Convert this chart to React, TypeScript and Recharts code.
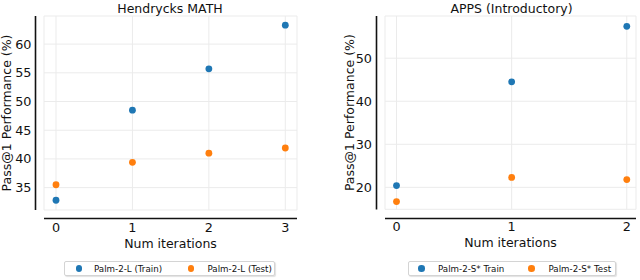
import React from 'react';
import { ScatterChart, Scatter, XAxis, YAxis, CartesianGrid } from 'recharts';

const mathIters = [0, 1, 2, 3];
const mathTrain = [32.8, 48.5, 55.7, 63.3];
const mathTest = [35.5, 39.4, 41.0, 41.9];
const mathYTicks = [35, 40, 45, 50, 55, 60];

const appsIters = [0, 1, 2];
const appsTrain = [20.4, 44.5, 57.4];
const appsTest = [16.7, 22.3, 21.8];
const appsYTicks = [20, 30, 40, 50];

const BLUE = '#1f77b4';
const ORANGE = '#ff7f0e';
const FONT = '"DejaVu Sans", sans-serif';
const TXT = '#111';

const dot = (color: string) => (p: any) => <circle cx={p.cx} cy={p.cy} r={3.4} fill={color} />;

function YLabel(props: any) {
  const vb = props.viewBox || {};
  return (
    <text
      transform={`translate(${props.lx}, ${vb.y + vb.height / 2}) rotate(-90)`}
      textAnchor="middle"
      dominantBaseline="central"
      fontSize={12.5}
      fontFamily={FONT}
      fill={TXT}
    >
      Pass@1 Performance (%)
    </text>
  );
}

type PanelProps = {
  iters: number[];
  train: number[];
  test: number[];
  yTicks: number[];
  xDomain: [number, number];
  yDomain: [number, number];
  yAxisW: number;
  labelX: number;
  right: number;
  bottom: number;
  tickGap: number;
};

function Panel(p: PanelProps) {
  const trainData = p.iters.map((x, i) => ({ x, y: p.train[i] }));
  const testData = p.iters.map((x, i) => ({ x, y: p.test[i] }));
  const tick = { fontSize: 12.8, fontFamily: FONT, fill: TXT };
  return (
    <ScatterChart width={320} height={280} margin={{ top: 16, right: p.right, bottom: p.bottom, left: 0 }}>
      <CartesianGrid stroke="#ebebeb" strokeWidth={1} />
      <XAxis
        type="number"
        dataKey="x"
        domain={p.xDomain}
        ticks={p.iters}
        allowDataOverflow
        height={40}
        axisLine={false}
        tickLine={false}
        tickSize={0}
        tickMargin={13}
        tick={tick}
        label={{ value: 'Num iterations', position: 'insideBottom', offset: 2, fontSize: 12.5, fontFamily: FONT, fill: TXT }}
      />
      <YAxis
        type="number"
        dataKey="y"
        domain={p.yDomain}
        ticks={p.yTicks}
        allowDataOverflow
        width={p.yAxisW}
        axisLine={false}
        tickLine={false}
        tickSize={0}
        tickMargin={p.tickGap}
        tick={tick}
        label={<YLabel lx={p.labelX} />}
      />
      <Scatter data={trainData} fill={BLUE} shape={dot(BLUE)} isAnimationActive={false} />
      <Scatter data={testData} fill={ORANGE} shape={dot(ORANGE)} isAnimationActive={false} />
    </ScatterChart>
  );
}

type LegendItem = { label: string; color: string; mx: number; tx: number };

function LegendBox({ left, width, items }: { left: number; width: number; items: LegendItem[] }) {
  return (
    <div
      style={{
        position: 'absolute',
        left,
        top: 261,
        width,
        height: 15,
        boxSizing: 'border-box',
        border: '1px solid #d4d4d4',
        borderRadius: 2,
        boxShadow: '1px 1px 1px rgba(0,0,0,0.12)',
        background: '#fff',
        fontFamily: FONT,
        fontSize: 8.7,
        color: TXT,
      }}
    >
      {items.map((it) => (
        <React.Fragment key={it.label}>
          <span
            style={{
              position: 'absolute',
              left: it.mx - 3.3,
              top: 3.2,
              width: 6.6,
              height: 6.6,
              borderRadius: '50%',
              background: it.color,
            }}
          />
          <span style={{ position: 'absolute', left: it.tx, top: 0.5, lineHeight: '13px', whiteSpace: 'nowrap' }}>
            {it.label}
          </span>
        </React.Fragment>
      ))}
    </div>
  );
}

export default function App() {
  return (
    <div style={{ position: 'fixed', left: 0, top: 0, width: 640, height: 280, background: '#fff', overflow: 'hidden' }}>
      <div style={{ position: 'absolute', left: 0, top: 0 }}>
        <Panel
          iters={mathIters}
          train={mathTrain}
          test={mathTest}
          yTicks={mathYTicks}
          xDomain={[-0.157, 3.153]}
          yDomain={[31.1, 64.9]}
          yAxisW={44}
          labelX={6}
          right={23}
          bottom={30}
          tickGap={12.5}
        />
      </div>
      <div style={{ position: 'absolute', left: 320, top: 0 }}>
        <Panel
          iters={appsIters}
          train={appsTrain}
          test={appsTest}
          yTicks={appsYTicks}
          xDomain={[-0.1, 2.08]}
          yDomain={[14.9, 59.8]}
          yAxisW={65}
          labelX={29}
          right={4}
          bottom={30.7}
          tickGap={13}
        />
      </div>
      <svg width={640} height={280} style={{ position: 'absolute', left: 0, top: 0, pointerEvents: 'none' }}>
        <g stroke="#111" strokeWidth={1.6}>
          <line x1={35.5} y1={16} x2={35.5} y2={210} />
          <line x1={44} y1={218.5} x2={297} y2={218.5} />
          <line x1={376.5} y1={16} x2={376.5} y2={209.5} />
          <line x1={385} y1={218.5} x2={636} y2={218.5} />
        </g>
        <g fontFamily={FONT} fontSize={12.5} fill={TXT} textAnchor="middle">
          <text x={170} y={12.5}>Hendrycks MATH</text>
          <text x={511.5} y={12.5}>APPS (Introductory)</text>
        </g>
      </svg>
      <LegendBox
        left={64}
        width={211}
        items={[
          { label: 'Palm-2-L (Train)', color: BLUE, mx: 14, tx: 29 },
          { label: 'Palm-2-L (Test)', color: ORANGE, mx: 126, tx: 142.5 },
        ]}
      />
      <LegendBox
        left={408}
        width={208}
        items={[
          { label: 'Palm-2-S* Train', color: BLUE, mx: 12.5, tx: 29 },
          { label: 'Palm-2-S* Test', color: ORANGE, mx: 122.5, tx: 139.5 },
        ]}
      />
    </div>
  );
}
